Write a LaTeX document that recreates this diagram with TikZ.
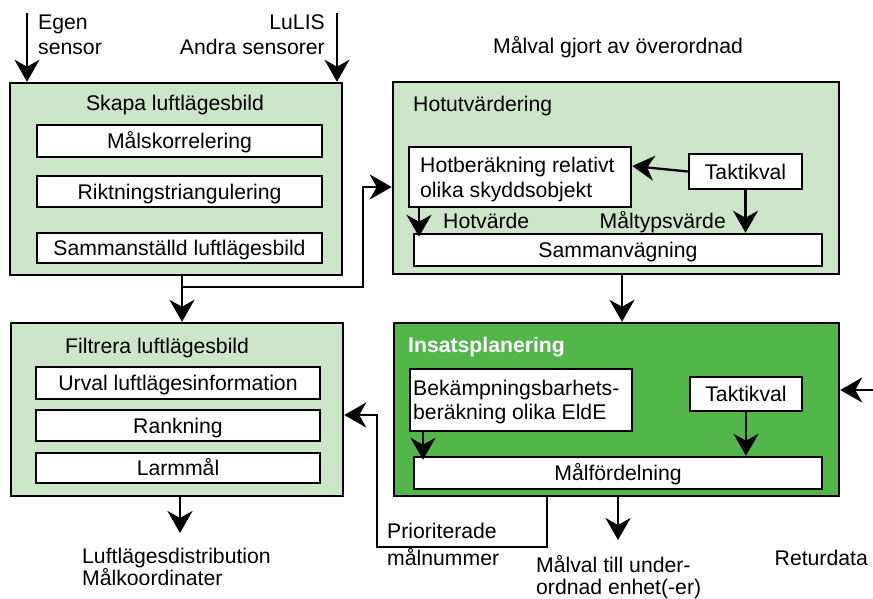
\documentclass[tikz,border=0pt]{standalone}
\usepackage{fontspec}
\setmainfont{Liberation Sans}
\usetikzlibrary{arrows.meta}
\definecolor{paleGreen}{RGB}{205,230,201}
\definecolor{deepGreen}{RGB}{82,182,74}
\tikzset{
  txt/.style={inner sep=0pt, font=\fontsize{21.2}{25}\selectfont},
  bigbox/.style={draw, line width=2.5pt, fill=paleGreen, inner sep=0pt},
  inbox/.style={draw, line width=2.5pt, fill=white, inner sep=0pt,
    text height=19.5pt, text depth=4.5pt, font=\fontsize{21.2}{25}\selectfont},
  arr/.style={line width=2.3pt, -{Stealth[length=22pt,width=25pt,inset=7pt]}},
}
\begin{document}
\begin{tikzpicture}[x=1pt,y=-1pt]
\useasboundingbox (0,0) rectangle (873,598);

% ---- Skapa luftlägesbild ----
\node[bigbox, minimum width=332pt, minimum height=192pt] (skapa) at (176,179) {};
\node[txt] (skapaT) at (175,105) {Skapa luftlägesbild};
\node[inbox, minimum width=285pt, minimum height=32pt] (malk) at (179.5,141) {Målskorrelering};
\node[inbox, minimum width=285pt, minimum height=31pt] (rikt) at (179.5,191.5) {Riktningstriangulering};
\node[inbox, minimum width=285pt, minimum height=30pt] (samst) at (179.5,248) {Sammanställd luftlägesbild};

% ---- Hotutvärdering ----
\node[bigbox, minimum width=446pt, minimum height=192pt] (hot) at (616,178) {};
\node[txt, anchor=base west] (hotT) at (413,111) {Hotutvärdering};
\node[inbox, minimum width=222pt, minimum height=60pt] (hotber) at (520,177) {};
\node[txt, anchor=base west] (hotberA) at (420,172) {Hotberäkning relativt};
\node[txt, anchor=base west] (hotberB) at (420,197) {olika skyddsobjekt};
\node[inbox, minimum width=113pt, minimum height=35pt] (takt1) at (745.5,171.5) {Taktikval};
\node[inbox, minimum width=408pt, minimum height=32pt] (samv) at (618,250) {Sammanvägning};
\node[txt, anchor=base west] (hvL) at (443,228) {Hotvärde};
\node[txt, anchor=base east] (mtL) at (726,228) {Måltypsvärde};
\node[txt, anchor=base] (overL) at (618,53) {Målval gjort av överordnad};

% ---- Insatsplanering ----
\node[bigbox, fill=deepGreen, minimum width=445pt, minimum height=173pt] (ins) at (616.5,409.5) {};
\node[txt, anchor=base west, text=white, font=\fontsize{21.2}{25}\selectfont\bfseries] (insT) at (408,352) {Insatsplanering};
\node[inbox, minimum width=222pt, minimum height=62pt] (bek) at (521,400) {};
\node[txt, anchor=base west] (bekA) at (413,395) {Bekämpningsbarhets-};
\node[txt, anchor=base west] (bekB) at (413,419) {beräkning olika EldE};
\node[inbox, minimum width=112pt, minimum height=34pt] (takt2) at (746,394) {Taktikval};
\node[inbox, minimum width=408pt, minimum height=32pt] (malf) at (618,473) {Målfördelning};

% ---- Filtrera luftlägesbild ----
\node[bigbox, minimum width=332pt, minimum height=173pt] (filt) at (177,409.5) {};
\node[txt, anchor=base west] (filtT) at (65,353) {Filtrera luftlägesbild};
\node[inbox, minimum width=284pt, minimum height=32pt] (urval) at (178,383) {Urval luftlägesinformation};
\node[inbox, minimum width=284pt, minimum height=31pt] (rank) at (178,425.5) {Rankning};
\node[inbox, minimum width=284pt, minimum height=30pt] (larm) at (178,468) {Larmmål};

% ---- outer labels ----
\node[txt, anchor=base west] (egenA) at (38,29) {Egen};
\node[txt, anchor=base west] (egenB) at (38,54) {sensor};
\node[txt, anchor=base east] (lulisA) at (325,29) {LuLIS};
\node[txt, anchor=base east] (lulisB) at (325,54) {Andra sensorer};
\node[txt, anchor=base west] (distA) at (82,563) {Luftlägesdistribution};
\node[txt, anchor=base west] (distB) at (82,585) {Målkoordinater};
\node[txt, anchor=base west] (prioA) at (387,538) {Prioriterade};
\node[txt, anchor=base west] (prioB) at (387,565) {målnummer};
\node[txt, anchor=base west] (undA) at (536,572) {Målval till under-};
\node[txt, anchor=base west] (undB) at (536,594) {ordnad enhet(-er)};
\node[txt, anchor=base east] (retL) at (868,565) {Returdata};

% ---- connectors ----
\coordinate (egenIn) at (27,13);
\coordinate (lulisIn) at (337,13);
\draw[arr] (egenIn) -- (egenIn |- skapa.north);
\draw[arr] (lulisIn) -- (lulisIn |- skapa.north);

\coordinate (split) at (182,287);
\coordinate (bendA) at (363,287);
\coordinate (bendB) at (363,187);
\draw[arr] (split |- skapa.south) -- (split |- filt.north);
\draw[arr] (split) -- (bendA) -- (bendB) -- (bendB -| hot.west);

\draw[arr] (takt1.west) -- ([yshift=11pt]hotber.east);
\draw[arr] (takt1.south) -- (takt1.south |- samv.north);
\coordinate (hvx) at (419,0);
\draw[arr, shorten >=-4pt] (hvx |- hotber.south) -- (hvx |- samv.north);

\coordinate (hix) at (622,0);
\draw[arr] (hix |- hot.south) -- (hix |- ins.north);

\coordinate (retIn) at (873,390);
\draw[arr] (retIn) -- (retIn -| ins.east);
\draw[arr] (takt2.south) -- (takt2.south |- malf.north);
\coordinate (bkx) at (423,0);
\draw[arr, shorten >=-4pt] (bkx |- bek.south) -- (bkx |- malf.north);

\coordinate (pA) at (547,547);
\coordinate (pB) at (377,547);
\coordinate (pC) at (377,415);
\draw[arr] (pA |- ins.south) -- (pA) -- (pB) -- (pC) -- (pC -| filt.east);

\coordinate (undOut) at (618,540);
\draw[arr] (undOut |- ins.south) -- (undOut);
\coordinate (distOut) at (180,533);
\draw[arr] (distOut |- filt.south) -- (distOut);
\end{tikzpicture}
\end{document}
